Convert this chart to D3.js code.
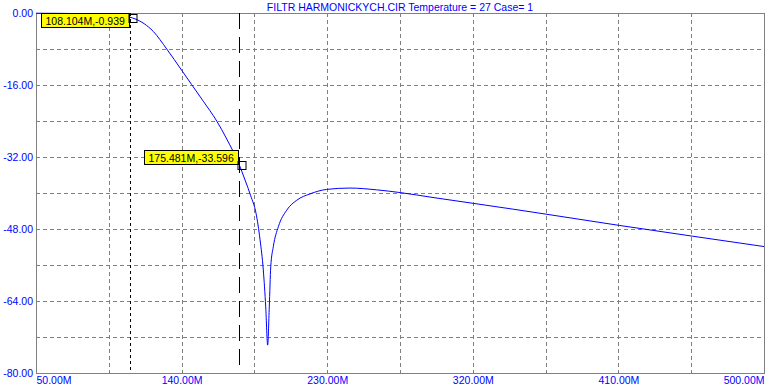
<!DOCTYPE html>
<html>
<head>
    <meta charset="utf-8">
    <title>FILTR HARMONICKYCH.CIR</title>
    <script src="https://d3js.org/d3.v7.min.js"></script>
    <style>
        body { margin: 0; background: #fff; }
        text { font-family: Arial, "Liberation Sans", sans-serif; }
    </style>
</head>
<body>
    <div id="chart"></div>

    <script>
        // Frequency in MHz, gain in dB
        var freq = [50, 80, 100, 108.104, 111.2, 122.5, 130.8, 140, 146.2, 153.4, 161.7, 167.9, 175.481,
                    179.2, 182.7, 186, 188.5, 190.5, 192, 193.2, 194.2, 195.1, 196.7, 199.8, 205, 211.2,
                    219.4, 229.7, 244, 260.6, 275, 295.4, 320.3, 345, 365.2, 410.5, 455.9, 500];
        var gain = [-0.05, -0.15, -0.5, -0.939, -1.3, -4.1, -8.0, -12.7, -15.9, -19.6, -24.0, -28.0, -33.596,
                    -37.1, -40.6, -44.5, -50.4, -57.1, -65.3, -73.8, -65.3, -56.4, -51.9, -47.5, -43.8, -41.6,
                    -40.2, -39.2, -38.9, -39.3, -39.9, -41, -42.3, -43.6, -44.7, -47.2, -49.6, -51.9];

        var xTicks = [50, 140, 230, 320, 410, 500];
        var yTicks = [0, -16, -32, -48, -64, -80];
        var xGrid = d3.range(50, 501, 45);
        var yGrid = d3.range(0, -81, -8);

        // cursor readouts
        var cursors = [
            { f: 108.104, v: -0.939, dash: "3,3" },
            { f: 175.481, v: -33.596, dash: "16,8" }
        ];

        var title = "FILTR HARMONICKYCH.CIR Temperature = 27 Case= 1";

        // plain hyphen for negatives
        var fmt = function(d) { return d.toFixed(2); };
        var fmt3 = function(d) { return d.toFixed(3); };
        var fs = "10.5px";

        var margin = { top: 13, right: 8, bottom: 14, left: 36 };
        var W = 772, H = 387;
        var width = W - margin.left - margin.right;
        var height = H - margin.top - margin.bottom;

        var svg = d3.select("#chart").append("svg")
            .attr("width", W)
            .attr("height", H);

        var g = svg.append("g")
            .attr("transform", "translate(" + margin.left + "," + margin.top + ")");

        var x = d3.scaleLinear().domain([50, 500]).range([0, width]);
        var y = d3.scaleLinear().domain([-80, 0]).range([height, 0]);

        // grid
        g.selectAll(".vgrid").data(xGrid.slice(1, -1)).enter().append("line")
            .attr("x1", function(d) { return Math.round(x(d)) + 0.5; })
            .attr("x2", function(d) { return Math.round(x(d)) + 0.5; })
            .attr("y1", 0).attr("y2", height)
            .attr("stroke", "#808080").attr("stroke-dasharray", "4,3");

        g.selectAll(".hgrid").data(yGrid.slice(1, -1)).enter().append("line")
            .attr("x1", 0).attr("x2", width)
            .attr("y1", function(d) { return Math.round(y(d)) + 0.5; })
            .attr("y2", function(d) { return Math.round(y(d)) + 0.5; })
            .attr("stroke", "#808080").attr("stroke-dasharray", "4,3");

        // frame
        g.append("rect")
            .attr("x", 0.5).attr("y", 0.5)
            .attr("width", width).attr("height", height)
            .attr("fill", "none").attr("stroke", "#808080");

        // axes (labels only)
        var xAxis = g.append("g")
            .attr("transform", "translate(0," + height + ")")
            .call(d3.axisBottom(x).tickValues(xTicks).tickSize(0).tickPadding(0)
                .tickFormat(function(d) { return fmt(d) + "M"; }));
        xAxis.select(".domain").remove();
        xAxis.selectAll("text")
            .attr("y", 11).attr("dy", 0)
            .attr("fill", "#0000ff").attr("font-size", fs)
            .attr("text-anchor", function(d, i) { return i === 0 ? "start" : (i === xTicks.length - 1 ? "end" : "middle"); });

        var yAxis = g.append("g")
            .call(d3.axisLeft(y).tickValues(yTicks).tickSize(0).tickPadding(3)
                .tickFormat(fmt));
        yAxis.select(".domain").remove();
        yAxis.selectAll("text")
            .attr("fill", "#0000ff").attr("font-size", fs)
            .attr("dy", "0.35em");

        // curve
        var line = d3.line()
            .x(function(d) { return x(d[0]); })
            .y(function(d) { return y(d[1]); })
            .curve(d3.curveMonotoneX);

        g.append("path")
            .datum(d3.zip(freq, gain))
            .attr("d", line)
            .attr("fill", "none")
            .attr("stroke", "#0000ff")
            .attr("stroke-width", 1);

        // cursors
        cursors.forEach(function(c) {
            var cx = Math.round(x(c.f)) + 0.5, cy = y(c.v);
            g.append("line")
                .attr("x1", cx).attr("x2", cx)
                .attr("y1", 0).attr("y2", height)
                .attr("stroke", "#000").attr("stroke-dasharray", c.dash);

            var box = g.append("rect");
            var t = g.append("text")
                .attr("font-size", fs)
                .attr("fill", "#000")
                .text(fmt3(c.f) + "M," + fmt3(c.v));
            var tw = t.node().getComputedTextLength();
            var bw = Math.round(tw + 9), bh = 14;
            var bx = Math.round(cx - 2 - bw) + 0.5;
            var by = Math.max(0, Math.round(cy - bh)) + 0.5;
            box.attr("x", bx).attr("y", by)
                .attr("width", bw).attr("height", bh)
                .attr("fill", "#ffff00").attr("stroke", "#000");
            t.attr("x", bx + 4).attr("y", by + 11);

            g.append("rect")
                .attr("x", Math.round(cx - 2)).attr("y", Math.round(cy - 3) + 0.5)
                .attr("width", 8).attr("height", 8)
                .attr("fill", "none").attr("stroke", "#000");
        });

        // title
        svg.append("text")
            .attr("x", margin.left + width / 2)
            .attr("y", 11)
            .attr("text-anchor", "middle")
            .attr("font-size", fs)
            .attr("fill", "#0000ff")
            .text(title);
    </script>
</body>
</html>
